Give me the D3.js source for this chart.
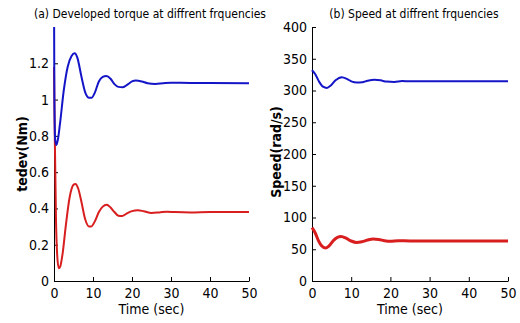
<!DOCTYPE html>
<html>
<head>
<meta charset="utf-8">
<script src="https://cdn.jsdelivr.net/npm/d3@7"></script>
<style>
	body { margin: 0; background: #fff; }
	svg { display: block; }
	text { font-family: "Liberation Sans Narrow", "Arial Narrow", "DejaVu Sans Condensed", "Liberation Sans", sans-serif; fill: #000; }
	.axis path, .axis line { stroke: #000; stroke-width: 1; }
	.axis text { font-size: 14px; }
	.title { font-size: 12px; }
	.ylabel { font-size: 14px; font-weight: bold; }
	.xlabel { font-size: 14px; }
</style>
</head>
<body>
<svg id="chart" width="520" height="323"></svg>
<script>
// torque (Nm) vs time (s)
const torqueHighT = [0, 0.1, 0.3, 0.6, 1.0, 1.5, 2.5, 3.5, 4.5, 5.3, 6, 7, 8, 9, 9.6, 10.5, 11.5, 12.5, 13.4, 14.5, 15.5, 16.5, 17.6, 19, 20, 21, 22.5, 24, 26, 28, 30, 35, 40, 50]
const torqueHigh = [1.6, 1.0, 0.78, 0.75, 0.78, 0.86, 1.05, 1.18, 1.24, 1.255, 1.23, 1.13, 1.04, 1.01, 1.01, 1.04, 1.1, 1.125, 1.13, 1.115, 1.085, 1.07, 1.068, 1.085, 1.1, 1.105, 1.1, 1.09, 1.086, 1.09, 1.093, 1.092, 1.092, 1.09]
const torqueLowT = [0, 0.2, 0.5, 0.8, 1.2, 1.6, 2.2, 3, 4, 5, 5.5, 6.2, 7, 8, 9, 9.5, 10.5, 11.5, 12.5, 13.5, 14.5, 15.5, 16.5, 17.5, 18.5, 20, 21.5, 23, 25, 27, 29, 31, 35, 40, 50]
const torqueLow = [1.18, 0.8, 0.35, 0.15, 0.07, 0.08, 0.15, 0.3, 0.46, 0.53, 0.535, 0.51, 0.44, 0.34, 0.3, 0.3, 0.33, 0.38, 0.41, 0.42, 0.405, 0.38, 0.36, 0.358, 0.37, 0.385, 0.39, 0.385, 0.375, 0.378, 0.382, 0.38, 0.378, 0.38, 0.38]

// speed (rad/s) vs time (s)
const speedHighT = [0, 0.8, 1.8, 2.8, 3.8, 4.8, 6, 7.6, 9, 10.2, 11.4, 12.8, 14.2, 16, 17.5, 19, 21, 23, 25, 30, 40, 50]
const speedHigh = [332, 326, 314, 306, 304, 308, 316, 321, 318, 314, 312.6, 313, 315.5, 317, 316, 314, 313.5, 315, 314.5, 314.5, 314.5, 314.5]
const speedLowT = [0, 0.8, 1.6, 2.5, 3.4, 4.3, 5.5, 7.4, 8.8, 10, 11.4, 12.8, 14.2, 15.6, 17, 18.5, 20, 22, 25, 30, 40, 50]
const speedLow = [84, 76, 64, 55, 52, 55, 64, 70, 67, 63, 60.7, 62, 64.5, 66, 65.5, 63.5, 62.5, 63.5, 63, 63, 63, 63]

const timeTicks = [0, 10, 20, 30, 40, 50]
const torqueTicks = [0, 0.2, 0.4, 0.6, 0.8, 1, 1.2]
const speedTicks = [0, 50, 100, 150, 200, 250, 300, 350, 400]

const BLUE = '#1515c8'
const RED = '#d81e1e'

const svg = d3.select('#chart')

function zip(ts, vs) {
	return ts.map((t, i) => ({ t, v: vs[i] }))
}

function drawPanel(opts) {
	const x = d3.scaleLinear().domain([0, 50]).range([opts.left, opts.right])
	const y = d3.scaleLinear().domain(opts.yDomain).range([281, 27])

	const g = svg.append('g')

	// axes first so the traces sit on top of them, like the matlab figure
	g.append('g')
		.attr('class', 'axis axis--x')
		.attr('transform', 'translate(0,281)')
		.call(d3.axisBottom(x).tickValues(timeTicks).tickSizeInner(-4).tickSizeOuter(0).tickPadding(7))

	g.append('g')
		.attr('class', 'axis axis--y')
		.attr('transform', `translate(${opts.left},0)`)
		.call(d3.axisLeft(y).tickValues(opts.yTicks).tickFormat(d3.format('')).tickSizeInner(-4).tickSizeOuter(0).tickPadding(5))

	const clipId = `clip-${opts.id}`
	g.append('clipPath').attr('id', clipId)
		.append('rect')
		.attr('x', opts.left - 2)
		.attr('y', 27)
		.attr('width', opts.right - opts.left + 4)
		.attr('height', 254)

	const line = d3.line()
		.x(d => x(d.t))
		.y(d => y(d.v))
		.curve(d3.curveMonotoneX)

	opts.series.forEach((s) => {
		g.append('path')
			.datum(s.data)
			.attr('clip-path', `url(#${clipId})`)
			.attr('fill', 'none')
			.attr('stroke', s.color)
			.attr('stroke-width', s.width)
			.attr('stroke-linejoin', 'round')
			.attr('d', line)
	})

	g.append('text')
		.attr('class', 'title')
		.attr('x', opts.titleX)
		.attr('y', 18)
		.attr('text-anchor', 'middle')
		.text(opts.title)

	g.append('text')
		.attr('class', 'xlabel')
		.attr('x', (opts.left + opts.right) / 2)
		.attr('y', 314)
		.attr('text-anchor', 'middle')
		.text('Time (sec)')

	g.append('text')
		.attr('class', 'ylabel')
		.attr('transform', `translate(${opts.yLabelX},${opts.yLabelY}) rotate(-90)`)
		.attr('text-anchor', 'middle')
		.text(opts.yLabel)
}

drawPanel({
	id: 'a',
	left: 54,
	right: 249,
	yDomain: [0, 1.4],
	yTicks: torqueTicks,
	title: '(a) Developed torque at diffrent frquencies',
	titleX: 150,
	yLabel: 'tedev(Nm)',
	yLabelX: 27,
	yLabelY: 154,
	series: [
		{ data: zip(torqueLowT, torqueLow), color: RED, width: 2 },
		{ data: zip(torqueHighT, torqueHigh), color: BLUE, width: 2 }
	]
})

drawPanel({
	id: 'b',
	left: 312,
	right: 508,
	yDomain: [0, 400],
	yTicks: speedTicks,
	title: '(b) Speed at diffrent frquencies',
	titleX: 414,
	yLabel: 'Speed(rad/s)',
	yLabelX: 281,
	yLabelY: 152,
	series: [
		{ data: zip(speedHighT, speedHigh), color: BLUE, width: 2 },
		{ data: zip(speedLowT, speedLow), color: RED, width: 3 }
	]
})
</script>
</body>
</html>
